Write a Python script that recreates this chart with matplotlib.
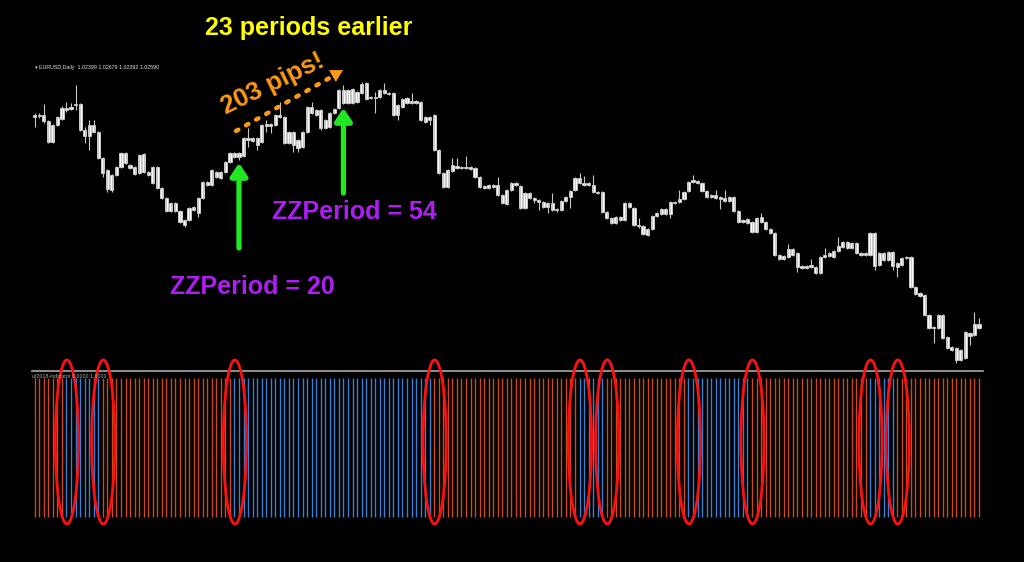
import numpy as np
import matplotlib
matplotlib.use("Agg")
import matplotlib.pyplot as plt
from matplotlib.patches import Ellipse

############################################################
# Data (EURUSD daily candles, price in chart points, 1 pt = 1 screen px)
############################################################

body_hi = [
    285, 285, 285, 279, 275, 283, 292, 292, 293, 296,
    296, 270, 275, 275, 268, 242, 230, 225, 233, 247,
    247, 235, 233, 245, 246, 228, 233, 233, 212, 202,
    197, 197, 189, 180, 192, 193, 202, 218, 218, 230,
    228, 228, 238, 247, 247, 247, 262, 262, 262, 262,
    275, 276, 276, 285, 285, 283, 268, 268, 260, 268,
    293, 293, 290, 290, 280, 287, 291, 310, 310, 310,
    311, 308, 316, 317, 303, 303, 310, 310, 307, 307,
    295, 301, 302, 299, 299, 298, 283, 283, 285, 250,
    227, 230, 235, 234, 233, 233, 233, 232, 223, 214,
    215, 215, 215, 205, 210, 217, 217, 214, 207, 207,
    202, 200, 198, 197, 197, 191, 199, 203, 209, 222,
    222, 217, 217, 215, 208, 208, 188, 182, 183, 183,
    197, 197, 192, 175, 174, 171, 184, 187, 191, 191,
    198, 198, 201, 208, 218, 220, 219, 217, 209, 205,
    205, 203, 202, 203, 203, 189, 180, 181, 178, 182,
    183, 178, 171, 167, 145, 144, 151, 151, 147, 134,
    134, 135, 133, 143, 145, 147, 149, 154, 158, 158,
    157, 157, 147, 147, 167, 167, 147, 147, 148, 148,
    137, 142, 143, 143, 113, 107, 105, 85, 73, 85,
    85, 63, 53, 52, 50, 68, 67, 76, 76,
]

body_lo = [
    283, 284, 279, 258, 258, 275, 281, 290, 291, 295,
    270, 264, 264, 268, 242, 227, 211, 210, 225, 233,
    237, 232, 226, 227, 228, 225, 217, 212, 202, 189,
    189, 189, 178, 175, 180, 190, 187, 202, 215, 215,
    223, 222, 228, 238, 243, 243, 244, 260, 259, 255,
    258, 274, 274, 275, 283, 257, 257, 255, 252, 253,
    268, 287, 285, 272, 272, 273, 287, 292, 297, 297,
    297, 298, 307, 301, 302, 302, 303, 307, 306, 285,
    285, 293, 297, 297, 297, 280, 278, 280, 250, 227,
    213, 213, 229, 232, 232, 232, 231, 223, 213, 212,
    212, 213, 205, 197, 196, 210, 215, 192, 192, 202,
    200, 198, 193, 193, 190, 190, 190, 199, 203, 210,
    217, 215, 215, 208, 207, 188, 182, 177, 177, 180,
    180, 193, 175, 174, 166, 165, 171, 184, 186, 186,
    186, 197, 198, 201, 209, 218, 217, 209, 203, 203,
    202, 201, 199, 199, 189, 178, 178, 177, 168, 168,
    178, 171, 167, 145, 141, 141, 143, 145, 133, 132,
    132, 133, 127, 127, 143, 144, 143, 149, 153, 152,
    152, 147, 145, 145, 145, 134, 135, 140, 140, 134,
    133, 135, 142, 113, 106, 104, 85, 72, 72, 72,
    62, 52, 50, 40, 40, 42, 64, 65, 72,
]

highs = [
    287, 287, 296, 280, 276, 284, 294, 298, 297, 315,
    297, 273, 280, 280, 269, 243, 231, 226, 234, 248,
    248, 236, 234, 246, 247, 229, 234, 234, 213, 203,
    198, 198, 190, 181, 193, 194, 203, 219, 219, 231,
    229, 229, 239, 248, 248, 248, 263, 272, 263, 263,
    276, 280, 277, 286, 298, 284, 269, 269, 261, 269,
    294, 298, 291, 291, 281, 288, 292, 311, 315, 311,
    312, 309, 318, 318, 304, 308, 311, 317, 308, 308,
    296, 302, 303, 307, 300, 299, 284, 284, 286, 251,
    228, 231, 242, 242, 234, 244, 234, 233, 224, 215,
    216, 216, 223, 206, 211, 218, 218, 215, 208, 208,
    203, 201, 199, 198, 207, 192, 200, 204, 210, 223,
    227, 224, 218, 225, 209, 209, 189, 183, 184, 184,
    198, 198, 193, 182, 175, 172, 185, 188, 192, 192,
    199, 199, 210, 209, 219, 225, 220, 218, 210, 206,
    210, 204, 210, 204, 204, 190, 181, 182, 179, 183,
    187, 179, 172, 168, 146, 145, 156, 152, 148, 135,
    135, 141, 134, 144, 152, 148, 150, 163, 159, 159,
    158, 158, 148, 148, 168, 168, 148, 148, 149, 149,
    138, 143, 144, 144, 114, 108, 106, 86, 74, 86,
    86, 64, 54, 53, 51, 69, 68, 88, 82,
]

lows = [
    273, 282, 277, 257, 257, 274, 280, 288, 290, 290,
    269, 257, 250, 267, 241, 223, 208, 208, 224, 232,
    236, 231, 225, 226, 227, 224, 216, 211, 201, 188,
    188, 188, 177, 173, 179, 189, 183, 201, 214, 214,
    222, 221, 227, 237, 242, 240, 243, 253, 258, 250,
    257, 268, 267, 274, 282, 256, 256, 248, 248, 252,
    267, 286, 284, 270, 271, 272, 286, 291, 296, 296,
    296, 297, 306, 300, 301, 287, 302, 306, 305, 284,
    280, 292, 296, 296, 296, 279, 277, 275, 249, 226,
    212, 212, 228, 231, 231, 231, 230, 222, 212, 211,
    211, 212, 204, 196, 195, 209, 214, 191, 191, 201,
    197, 190, 192, 187, 189, 188, 189, 198, 192, 209,
    216, 214, 214, 207, 206, 187, 181, 176, 176, 179,
    179, 192, 174, 172, 165, 164, 170, 183, 185, 185,
    182, 196, 197, 200, 208, 217, 216, 208, 202, 202,
    201, 191, 198, 198, 188, 177, 177, 176, 167, 167,
    177, 170, 166, 144, 140, 140, 142, 144, 128, 131,
    131, 132, 126, 126, 142, 143, 142, 148, 152, 151,
    151, 146, 144, 144, 144, 130, 134, 139, 139, 130,
    123, 134, 141, 112, 105, 103, 84, 71, 57, 71,
    61, 51, 49, 37, 39, 41, 55, 64, 71,
]

# indicator: histogram value 1.0 on every bar, colour flips on these bars
ind_level = 1.0
switch_bars = [7, 15, 44, 88, 120, 126, 144, 158, 184, 190]

# bars marked by the ZigZag arrows
zz20_bar = 45
zz54_bar = 68

n = len(body_hi)
assert len(body_lo) == n and len(highs) == n and len(lows) == n

############################################################
# Layout
############################################################

W, H = 1024, 562
BAR_PX = 4.54
FIRST_PX = 34.7
XLIM = (-FIRST_PX / BAR_PX, (W - FIRST_PX) / BAR_PX)

ORANGE_IND = "#cc4a1c"
BLUE_IND = "#3a7fd0"
PURPLE = "#b01cf4"
ORANGE = "#fb9a14"
GREEN = "#22e622"
FONT = ["Liberation Sans", "DejaVu Sans"]

x = np.arange(n)
hi = np.array(body_hi)
lo = np.array(body_lo)

fig = plt.figure(figsize=(W / 100, H / 100), dpi=100, facecolor="black")

############################################################
# Price panel
############################################################

ax = fig.add_axes([0, 192 / H, 1, 370 / H])
ax.axis("off")
ax.set_xlim(XLIM)
ax.set_ylim(30, 400)

ax.vlines(x, lows, highs, color="#c8c8c8", lw=0.8)
ax.bar(x, hi - lo, bottom=lo, width=0.7,
       color="white", edgecolor="white", linewidth=0.4)

for bar, tip, tail in [(zz20_bar, 237, 152), (zz54_bar, 292, 207)]:
    ax.annotate(
        "", xy=(bar, tip), xytext=(bar, tail),
        arrowprops=dict(arrowstyle="-|>,head_length=0.75,head_width=0.5",
                        lw=3.8, color=GREEN, shrinkA=0, shrinkB=0)
    )

############################################################
# Indicator panel
############################################################

ind = fig.add_axes([0, 0, 1, 192 / H])
ind.axis("off")
ind.set_xlim(XLIM)
ind.set_ylim(-45 / 139, 1 + 8 / 139)

cols = []
state = 0
for i in range(n):
    if i in switch_bars:
        state = 1 - state
    cols.append(ORANGE_IND if state == 0 else BLUE_IND)

ind.vlines(x, 0, ind_level, colors=cols, lw=1.0)

ind.axhline(1 + 7 / 139, xmin=31.7 / W, xmax=982.7 / W, color="#a8a8a8", lw=1.2)

for b in switch_bars:
    ind.add_patch(Ellipse((b + 0.1, 0.54), width=5.1, height=1.18,
                          fill=False, ec="#ff1010", lw=2.0, clip_on=False,
                          zorder=5))

############################################################
# Text / annotation layer (screen pixels)
############################################################

over = fig.add_axes([0, 0, 1, 1])
over.axis("off")
over.set_xlim(0, W)
over.set_ylim(H, 0)

over.text(35, 67, "\u25be EURUSD,Daily  1.02399 1.02679 1.02392 1.02590",
          color="#e0e0e0", fontsize=3.8, family=FONT, va="center")
over.text(32, 376, "uf2018-indicator 0.0000 1.0000",
          color="#b0b0b0", fontsize=3.8, family=FONT, va="center")

over.text(205, 35, "23 periods earlier", color="#ffff00", fontsize=18,
          fontweight="bold", family=FONT, va="baseline")
over.text(170, 294, "ZZPeriod = 20", color=PURPLE, fontsize=18,
          fontweight="bold", family=FONT, va="baseline")
over.text(272, 219, "ZZPeriod = 54", color=PURPLE, fontsize=18,
          fontweight="bold", family=FONT, va="baseline")
over.text(226, 115, "203 pips!", color=ORANGE, fontsize=18.5, rotation=26,
          rotation_mode="anchor", fontweight="bold", family=FONT,
          ha="left", va="baseline")

over.plot([236, 333], [131, 76], color=ORANGE, lw=3.2,
          dashes=(0.6, 2.0), dash_capstyle="round")
over.annotate(
    "", xy=(343, 70), xytext=(333, 75.7),
    arrowprops=dict(arrowstyle="-|>,head_length=0.8,head_width=0.45",
                    lw=0.5, color=ORANGE, shrinkA=0, shrinkB=0)
)

fig.savefig("out.png", dpi=100, facecolor="black")
